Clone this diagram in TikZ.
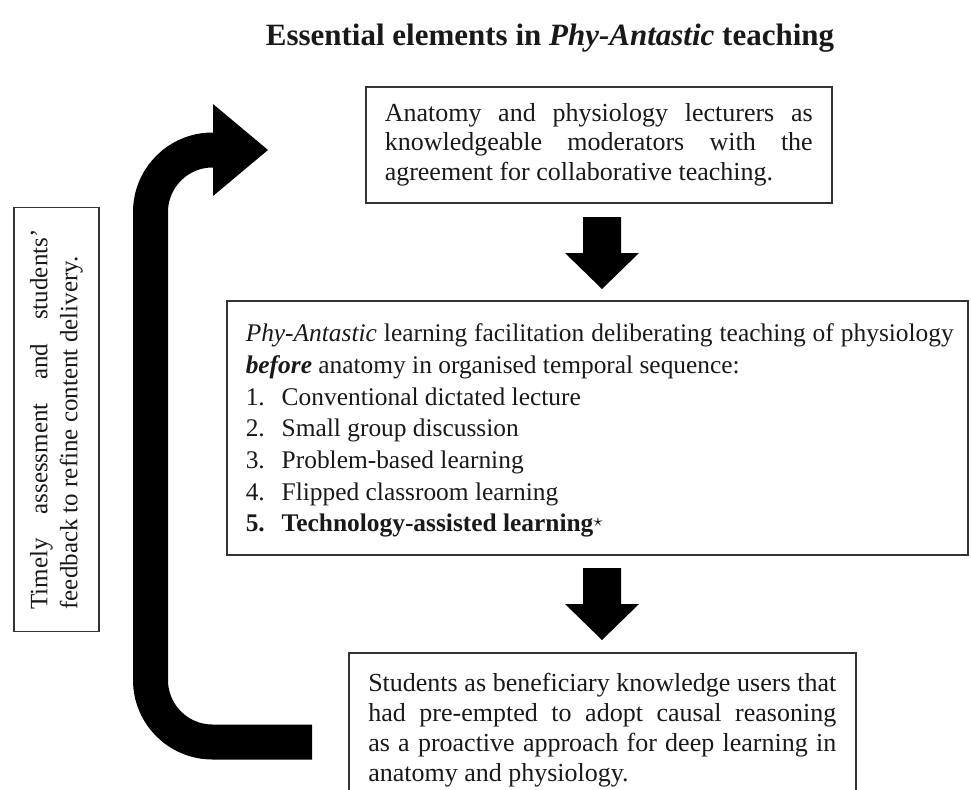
\documentclass[tikz,border=0pt]{standalone}
\usepackage{fontspec}
\setmainfont{Liberation Serif}
\usetikzlibrary{positioning,fit}

\tikzset{
  frame/.style={draw=black!80, line width=0.75pt},
  textbox/.style={frame, align=justify, text=black!90, font=\fontsize{13}{15}\selectfont},
  solidarrow/.style={fill=black},
}

\begin{document}
\begin{tikzpicture}[x=0.5pt,y=-0.5pt]
\useasboundingbox (0,0) rectangle (971,789);

% title
\node[font=\fontsize{15.5}{18}\selectfont\bfseries, text=black!90] (title) at (550,38) {Essential elements in \textit{Phy-Antastic} teaching};

% lecturers
\node[textbox, font=\fontsize{13}{14.6}\selectfont, text width=214pt, inner xsep=9.5pt, inner ysep=8.5pt, anchor=north west] (lect) at (365,86)
  {Anatomy and physiology lecturers as\linebreak knowledgeable moderators with the\linebreak agreement for collaborative teaching.};

% facilitation
\node[textbox, draw=none, text width=354pt, inner xsep=9pt, inner ysep=11pt, anchor=north west,
      font=\fontsize{12.7}{15.85}\selectfont] (facil) at (227,301)
  {\textit{Phy-Antastic} learning facilitation deliberating teaching of physiology\linebreak
   \textbf{\textit{before}} anatomy in organised temporal sequence:\\
   \makebox[18pt][l]{1.}Conventional dictated lecture\\
   \makebox[18pt][l]{2.}Small group discussion\\
   \makebox[18pt][l]{3.}Problem-based learning\\
   \makebox[18pt][l]{4.}Flipped classroom learning\\
   \textbf{\makebox[18pt][l]{5.}Technology-assisted learning\raisebox{0.45ex}{\small$\star$}}};
\coordinate (facilend) at (968,555);
\node[frame, fit=(facil.north west)(facilend), inner sep=0pt] (facilbox) {};

% students
\node[textbox, text width=234pt, inner xsep=9.75pt, inner ysep=10pt, anchor=north west] (users) at (348,652)
  {Students as beneficiary knowledge users that\linebreak had pre-empted to adopt causal reasoning\linebreak as a proactive approach for deep learning in\linebreak anatomy and physiology.};

% feedback
\node[textbox, font=\fontsize{12.5}{15}\selectfont, rotate=90, text width=190pt, inner xsep=11pt, inner ysep=8pt] (timely) at (56.5,419.5)
  {Timely assessment and students’\linebreak feedback to refine content delivery.};

% down arrows
\fill[solidarrow] (583,217) -- (621,217) -- (621,253) -- (639,253) -- (602,289) -- (565,253) -- (583,253) -- cycle;
\fill[solidarrow] (583,568) -- (621,568) -- (621,604) -- (639,604) -- (602,640) -- (565,604) -- (583,604) -- cycle;

% feedback loop
\coordinate (loopstart) at ([xshift=-18pt]users.west |- 0,742);
\draw[line width=17.5pt, rounded corners=31pt] (loopstart) -- (150.5,742) -- (150.5,150) -- (214,150);
\fill[solidarrow] (213,104) -- (268,150) -- (213,196) -- cycle;
\end{tikzpicture}
\end{document}
